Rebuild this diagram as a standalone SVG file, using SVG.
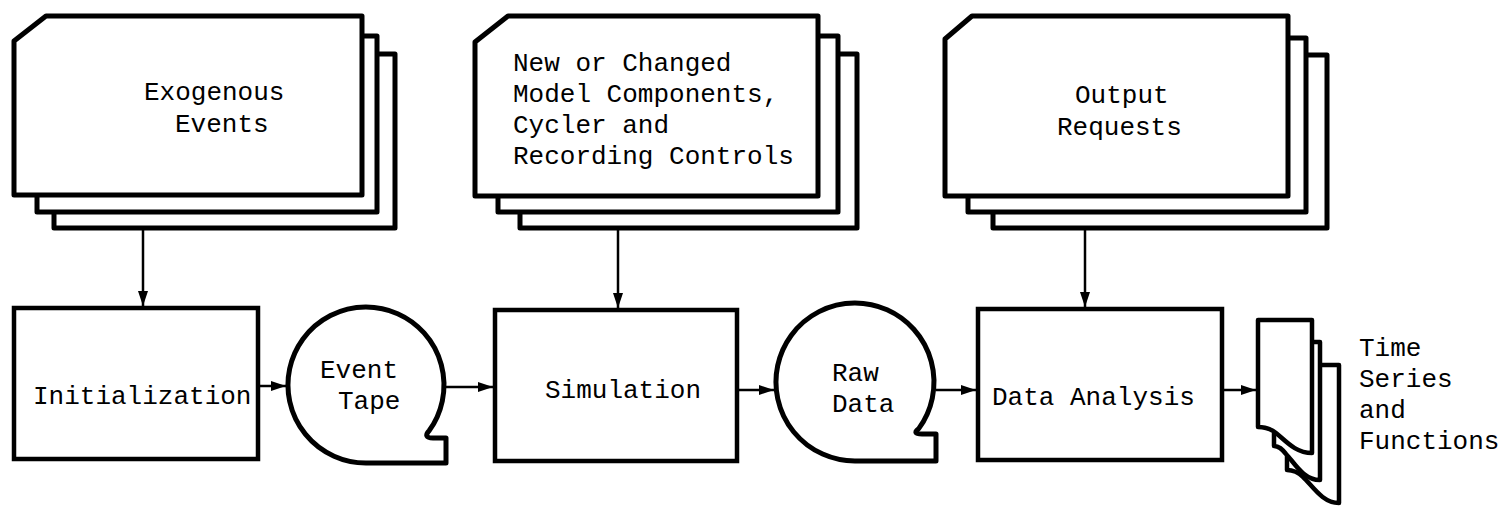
<svg xmlns="http://www.w3.org/2000/svg" width="1511" height="506" viewBox="0 0 1511 506">
  <style>
    .card { fill: #fff; stroke: #000; stroke-width: 5; stroke-linejoin: round; }
    .box { fill: #fff; stroke: #000; stroke-width: 4.5; }
    .tape { fill: #fff; stroke: #000; stroke-width: 5; stroke-linejoin: round; }
    .doc { fill: #fff; stroke: #000; stroke-width: 4.5; stroke-linejoin: round; }
    .conn { fill: none; stroke: #000; stroke-width: 2.5; }
    text { font-family: "Liberation Mono", "Courier New", monospace; font-size: 26px; fill: #000; }
  </style>
  <defs>
    <marker id="arrow" markerUnits="userSpaceOnUse" markerWidth="16" markerHeight="12" refX="15" refY="6" orient="auto">
      <path d="M0,1 L15,6 L0,11 Z" fill="#000"/>
    </marker>
  </defs>

  <!-- input card decks -->
  <g id="exogenous-events">
    <rect class="card" x="54" y="54" width="341" height="174"/>
    <rect class="card" x="37" y="36" width="340" height="176"/>
    <path class="card" d="M14,41 L46,16 L362,16 L362,195 L14,195 Z"/>
    <text x="144" y="100">Exogenous</text>
    <text x="175" y="132">Events</text>
  </g>

  <g id="model-components">
    <rect class="card" x="520" y="54" width="337" height="174"/>
    <rect class="card" x="498" y="36" width="340" height="176"/>
    <path class="card" d="M475,42 L508,16 L818,16 L818,196 L475,196 Z"/>
    <text x="513" y="71">New or Changed</text>
    <text x="513" y="102">Model Components,</text>
    <text x="513" y="133">Cycler and</text>
    <text x="513" y="164">Recording Controls</text>
  </g>

  <g id="output-requests">
    <rect class="card" x="993" y="55" width="334" height="173"/>
    <rect class="card" x="968" y="38" width="338" height="174"/>
    <path class="card" d="M945,39 L972,16 L1288,16 L1288,196 L945,196 Z"/>
    <text x="1075" y="103">Output</text>
    <text x="1057" y="135">Requests</text>
  </g>

  <!-- processing steps -->
  <g id="initialization">
    <rect class="box" x="14" y="308" width="244" height="151"/>
    <text x="33" y="404">Initialization</text>
  </g>

  <g id="event-tape">
    <path class="tape" d="M366,463 A78,78 0 1 1 429.1,430.8 C425,435 426,438 433,438 L446,438 L446,463 Z"/>
    <text x="320" y="378">Event</text>
    <text x="338" y="409">Tape</text>
  </g>

  <g id="simulation">
    <rect class="box" x="495" y="310" width="242" height="151"/>
    <text x="545" y="398">Simulation</text>
  </g>

  <g id="raw-data">
    <path class="tape" d="M855,461 A79,79 0 1 1 918.9,428.4 C914,432 915,434 922,434 L936,434 L936,461 Z"/>
    <text x="832" y="381">Raw</text>
    <text x="832" y="412">Data</text>
  </g>

  <g id="data-analysis">
    <rect class="box" x="978" y="309" width="244" height="151"/>
    <text x="992" y="405">Data Analysis</text>
  </g>

  <g id="time-series">
    <path class="doc" d="M1287,365 L1339,365 L1339,503 C1322,503 1312,485 1303,477 C1298,472 1294,470 1287,470 Z"/>
    <path class="doc" d="M1274,342 L1320,342 L1320,480 C1303,480 1294,462 1286,454 C1282,449 1279,446 1274,446 Z"/>
    <path class="doc" d="M1258,320 L1312,320 L1312,453 C1295,453 1285,440 1276,433 C1271,429 1266,427 1258,427 Z"/>
    <text x="1359" y="356">Time</text>
    <text x="1359" y="387">Series</text>
    <text x="1359" y="418">and</text>
    <text x="1359" y="449">Functions</text>
  </g>

  <!-- flow connectors -->
  <g id="connectors">
    <line class="conn" x1="143" y1="229" x2="143" y2="306" marker-end="url(#arrow)"/>
    <line class="conn" x1="618" y1="229" x2="618" y2="308" marker-end="url(#arrow)"/>
    <line class="conn" x1="1085" y1="229" x2="1085" y2="307" marker-end="url(#arrow)"/>
    <line class="conn" x1="258" y1="386" x2="286" y2="386" stroke-width="5" marker-end="url(#arrow)"/>
    <line class="conn" x1="446" y1="387" x2="493" y2="387" marker-end="url(#arrow)"/>
    <line class="conn" x1="737" y1="390" x2="774" y2="390" marker-end="url(#arrow)"/>
    <line class="conn" x1="936" y1="390" x2="976" y2="390" marker-end="url(#arrow)"/>
    <line class="conn" x1="1222" y1="390" x2="1256" y2="390" marker-end="url(#arrow)"/>
  </g>
</svg>
